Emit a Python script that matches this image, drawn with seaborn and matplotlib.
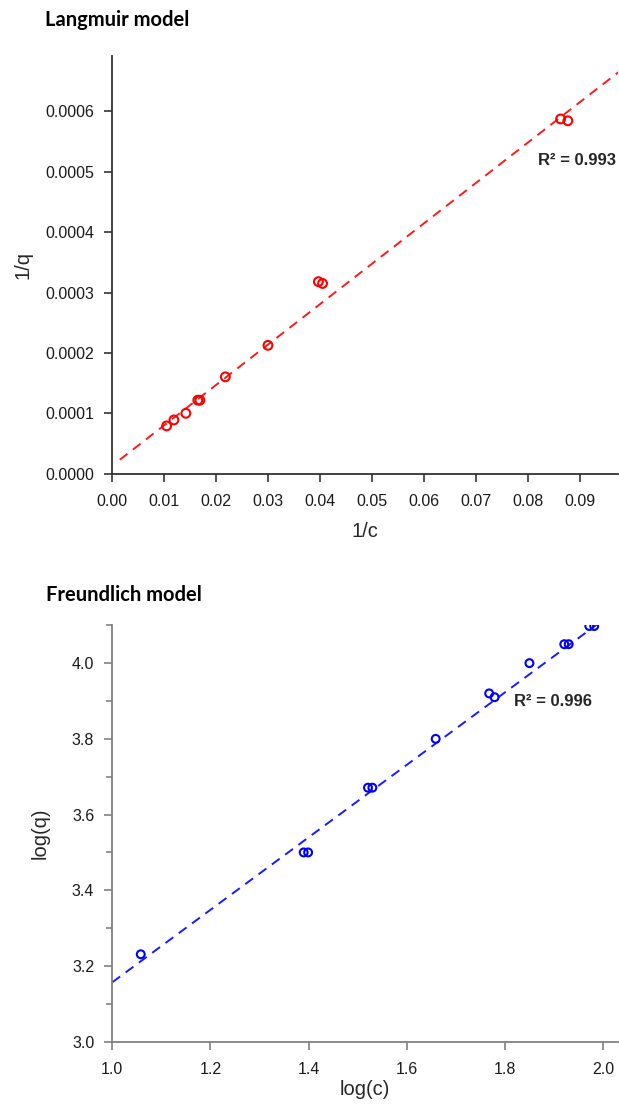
import numpy as np
import matplotlib.pyplot as plt
import seaborn as sns
from matplotlib.ticker import MultipleLocator, FormatStrFormatter

# Langmuir data (1/c vs 1/q)
lang_x = [0.0105, 0.0119, 0.0142, 0.0165, 0.0169, 0.0218, 0.0300,
          0.0397, 0.0405, 0.0863, 0.0877]
lang_y = [0.0000795, 0.0000893, 0.0001003, 0.000122, 0.000122, 0.0001606,
          0.0002127, 0.000318, 0.000315, 0.000587, 0.000584]
lang_slope = 0.00668
lang_intercept = 0.0000135
lang_fit_x = [0.0015, 0.1]
lang_r2 = "R\u00b2 = 0.993"

# Freundlich data (log(c) vs log(q))
freu_x = [1.058, 1.390, 1.399, 1.521, 1.530, 1.659, 1.768, 1.779,
          1.850, 1.921, 1.930, 1.972, 1.982]
freu_y = [3.231, 3.500, 3.500, 3.671, 3.671, 3.800, 3.920, 3.910,
          4.000, 4.050, 4.050, 4.098, 4.098]
freu_slope = 0.957
freu_intercept = 2.200
freu_fit_x = [1.0, 2.1]
freu_r2 = "R\u00b2 = 0.996"

sns.set_style("ticks")
plt.rcParams['font.family'] = ['Liberation Sans', 'DejaVu Sans']

fig = plt.figure(figsize=(6.19, 11.10), dpi=100)
ax1 = fig.add_axes([0.181, 0.573, 0.817, 0.3765])
ax2 = fig.add_axes([0.1814, 0.0615, 0.8166, 0.3752])


def style_axis(ax, spine_color):
    sns.despine(ax=ax)
    for side in ["left", "bottom"]:
        ax.spines[side].set_color(spine_color)
        ax.spines[side].set_linewidth(1.3)
    ax.tick_params(which="major", direction="out", length=6, width=1.2,
                   color=spine_color, labelsize=11.5, labelcolor="#1a1a1a")
    ax.tick_params(axis="x", which="major", pad=8.5)
    ax.tick_params(axis="y", which="major", pad=7)
    ax.tick_params(which="minor", direction="out", length=4.5, width=1.2,
                   color=spine_color)


# --- Langmuir ---
lx = np.array(lang_fit_x)
sns.lineplot(x=lx, y=lang_intercept + lang_slope * lx, ax=ax1, color="#ff1a1a",
             linestyle=(0, (5, 3.5)), linewidth=1.4)
sns.scatterplot(x=lang_x, y=lang_y, ax=ax1, marker="o", s=40,
                facecolors="none", edgecolor="#ff0000", linewidth=1.5, zorder=3)
ax1.set_xlim(0, 0.0973)
ax1.set_ylim(0, 0.000691)
ax1.xaxis.set_major_locator(MultipleLocator(0.01))
ax1.yaxis.set_major_locator(MultipleLocator(0.0001))
ax1.xaxis.set_major_formatter(FormatStrFormatter("%.2f"))
ax1.yaxis.set_major_formatter(FormatStrFormatter("%.4f"))
ax1.set_xlabel("1/c", fontsize=14.5)
ax1.set_ylabel("1/q", fontsize=14.5)
ax1.xaxis.set_label_coords(0.5, -0.114)
ax1.yaxis.set_label_coords(-0.158, 0.5)
ax1.text(0.0819, 0.000519, lang_r2, fontsize=12, fontweight="bold",
         va="center", ha="left")
style_axis(ax1, "#333333")

# --- Freundlich ---
fx = np.array(freu_fit_x)
sns.lineplot(x=fx, y=freu_intercept + freu_slope * fx, ax=ax2, color="#1a1aff",
             linestyle=(0, (5, 3.5)), linewidth=1.4)
sns.scatterplot(x=freu_x, y=freu_y, ax=ax2, marker="o", s=32,
                facecolors="none", edgecolor="#0000ff", linewidth=1.5, zorder=3)
ax2.set_xlim(1.0, 2.03)
ax2.set_ylim(3.0, 4.1)
ax2.xaxis.set_major_locator(MultipleLocator(0.2))
ax2.yaxis.set_major_locator(MultipleLocator(0.2))
ax2.yaxis.set_minor_locator(MultipleLocator(0.1))
ax2.xaxis.set_major_formatter(FormatStrFormatter("%.1f"))
ax2.yaxis.set_major_formatter(FormatStrFormatter("%.1f"))
ax2.set_xlabel("log(c)", fontsize=14.5)
ax2.set_ylabel("log(q)", fontsize=14.5)
ax2.xaxis.set_label_coords(0.5, -0.092)
ax2.yaxis.set_label_coords(-0.123, 0.5)
ax2.text(1.819, 3.898, freu_r2, fontsize=12, fontweight="bold",
         va="center", ha="left")
style_axis(ax2, "#808080")

fig.text(45 / 619, 1 - 20 / 1110, "Langmuir model", fontsize=14.5,
         fontweight="bold", family=["Lato", "DejaVu Sans"], color="black",
         va="center", ha="left")
fig.text(46 / 619, 1 - 595 / 1110, "Freundlich model", fontsize=14.5,
         fontweight="bold", family=["Lato", "DejaVu Sans"], color="black",
         va="center", ha="left")

fig.savefig("out.png", dpi=100)
